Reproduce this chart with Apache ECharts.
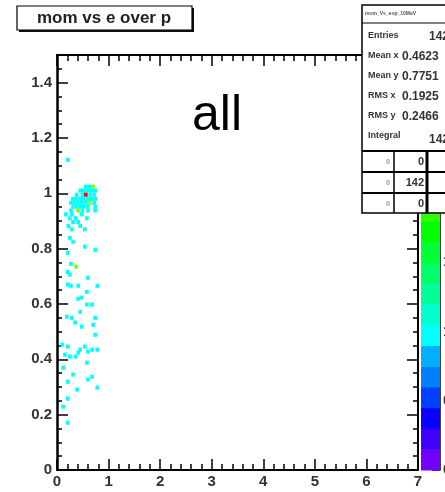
<!DOCTYPE html>
<html>
<head>
<meta charset="utf-8">
<script src="https://cdn.jsdelivr.net/npm/echarts@6/dist/echarts.min.js"></script>
<style>
  html, body { margin: 0; padding: 0; background: #fff; }
  #chart { width: 445px; height: 492px; }
</style>
</head>
<body>
<div id="chart"></div>
<script>
// Filled bins of the 2D histogram: x = E/p, y = momentum, entries per bin
const eOverP = [
  0.21,
  0.56, 0.63, 0.70,
  0.45, 0.52, 0.60, 0.67, 0.74,
  0.38, 0.49, 0.56, 0.64, 0.72,
  0.31, 0.38, 0.45, 0.52, 0.60, 0.67, 0.74,
  0.27, 0.34, 0.41, 0.48, 0.56, 0.64, 0.72,
  0.31, 0.38, 0.45, 0.52, 0.60, 0.74,
  0.27, 0.41, 0.49, 0.60, 0.74,
  0.17, 0.29, 0.48,
  0.25, 0.36, 0.58,
  0.31, 0.41,
  0.22, 0.45,
  0.29, 0.54,
  0.25, 0.31, 0.54, 0.74, 0.21,
  0.27, 0.37, 0.21, 0.25, 0.60,
  0.21, 0.27, 0.41, 0.78, 0.58,
  0.41, 0.48, 0.58, 0.68, 0.45,
  0.19, 0.29, 0.74,
  0.35, 0.48, 0.70, 0.74,
  0.10, 0.21, 0.41, 0.45, 0.54, 0.60, 0.68, 0.78, 0.155, 0.25, 0.36,
  0.58, 0.12, 0.31, 0.60, 0.68, 0.21, 0.39, 0.78,
  0.21, 0.12, 0.21
];
const mom = [
  1.121,
  1.024, 1.024, 1.024,
  1.010, 1.010, 1.010, 1.010, 1.010,
  0.995, 0.995, 0.995, 0.995, 0.995,
  0.980, 0.980, 0.980, 0.980, 0.980, 0.980, 0.980,
  0.966, 0.966, 0.966, 0.966, 0.966, 0.966, 0.966,
  0.952, 0.952, 0.952, 0.952, 0.952, 0.952,
  0.938, 0.938, 0.938, 0.938, 0.938,
  0.924, 0.924, 0.924,
  0.910, 0.910, 0.910,
  0.896, 0.896,
  0.882, 0.882,
  0.870, 0.870,
  0.839, 0.825, 0.807, 0.796, 0.785,
  0.745, 0.735, 0.716, 0.706, 0.695,
  0.670, 0.666, 0.666, 0.666, 0.644,
  0.619, 0.623, 0.598, 0.598, 0.572,
  0.554, 0.550, 0.550,
  0.533, 0.518, 0.525, 0.489,
  0.453, 0.446, 0.424, 0.435, 0.446, 0.428, 0.435, 0.435, 0.417, 0.410, 0.410,
  0.388, 0.370, 0.345, 0.327, 0.337, 0.319, 0.291, 0.298,
  0.258, 0.229, 0.171
];
const entries = [
  1,
  1, 1, 2,
  1, 1, 1, 1, 1,
  1, 1, 3, 1, 1,
  1, 1, 1, 1, 1, 1, 1,
  1, 1, 1, 1, 1, 2, 1,
  1, 1, 1, 1, 1, 1,
  1, 2, 1, 1, 1,
  1, 1, 1,
  1, 1, 1,
  1, 1,
  1, 1,
  1, 1,
  1, 1, 1, 1, 1,
  1, 2, 1, 1, 1,
  1, 1, 1, 1, 1,
  1, 1, 1, 1, 1,
  1, 1, 1,
  1, 1, 1, 1,
  1, 1, 1, 1, 1, 1, 1, 1, 1, 1, 1,
  1, 1, 1, 1, 1, 1, 1, 1,
  1, 1, 1
];

// Histogram binning and z range
const BIN_X = 0.07;
const BIN_Y = 0.015;
const zMax = 3;

// Colour palette, lowest band first
const palette = [
  '#7000ff', '#4000ff', '#0a00ff', '#0040ff', '#0080ff',
  '#00b0ff', '#00ffff', '#00ffcc', '#00ff99', '#00ff66',
  '#00ff33', '#00ff00', '#33ff00', '#80ff00', '#b0ff00',
  '#ddff00', '#ffee00', '#ffaa00', '#ff5500', '#ff0000'
];

// Statistics panel contents
const statsName = 'mom_Vs_eop_10MeV';
const statsLabels = ['Entries', 'Mean x', 'Mean y', 'RMS x', 'RMS y', 'Integral'];
const statsValues = ['142', '0.4623', '0.7751', '0.1925', '0.2466', '142'];
const overflowLeft = ['0', '0', '0'];
const overflowMid = ['0', '142', '0'];

const titleText = 'mom vs e over p';
const labelText = 'all';

const FONT = "'Liberation Sans', Arial, Helvetica, sans-serif";

const chart = echarts.init(document.getElementById('chart'), null, { renderer: 'canvas' });

function colorOf(n) {
  const idx = Math.max(0, Math.min(palette.length - 1, Math.floor(n / zMax * palette.length)));
  return palette[idx];
}

function renderCell(params, api) {
  const x = api.value(0), y = api.value(1), n = api.value(2);
  const p = api.coord([x - BIN_X / 2, y + BIN_Y / 2]);
  const s = api.size([BIN_X, BIN_Y]);
  return {
    type: 'rect',
    shape: { x: p[0], y: p[1], width: s[0], height: s[1] },
    style: { fill: colorOf(n) }
  };
}

function renderBand(params, api) {
  const i = api.value(0);
  const step = zMax / palette.length;
  const p = api.coord([0, (i + 1) * step]);
  const s = api.size([1, step]);
  return {
    type: 'rect',
    shape: { x: p[0], y: p[1], width: s[0], height: s[1] + 0.5 },
    style: { fill: palette[i] }
  };
}

const cells = eOverP.map((x, i) => [x, mom[i], entries[i]]);
const bands = palette.map((c, i) => [i]);

const tickLine = { color: '#000', width: 1.5 };
const frameLine = { color: '#000', width: 2 };

function xAxisDef(position, showLabel) {
  return {
    gridIndex: 0, type: 'value', min: 0, max: 7, interval: 1, position: position,
    axisLine: { show: true, onZero: false, lineStyle: frameLine },
    axisTick: { show: true, inside: true, length: 11, lineStyle: tickLine },
    minorTick: { show: true, splitNumber: 5, length: 6, lineStyle: tickLine },
    axisLabel: {
      show: showLabel, color: '#333', fontWeight: 'bold', fontSize: 15,
      fontFamily: FONT, margin: 4
    },
    splitLine: { show: false }, minorSplitLine: { show: false }
  };
}

function yAxisDef(position, interval, len, showLabel, showLine) {
  return {
    gridIndex: 0, type: 'value', min: 0, max: 1.5, interval: interval, position: position,
    axisLine: { show: showLine, onZero: false, lineStyle: position === 'left' ? { color: '#000', width: 2.5 } : frameLine },
    axisTick: { show: true, inside: true, length: len, lineStyle: tickLine },
    axisLabel: {
      show: showLabel, showMaxLabel: false, color: '#333', fontWeight: 'bold', fontSize: 15,
      fontFamily: FONT, margin: 5
    },
    splitLine: { show: false }
  };
}

const option = {
  backgroundColor: '#fff',
  animation: false,
  grid: [
    { left: 57, top: 55, width: 361, height: 415, outerBoundsMode: 'none', containLabel: false },
    { left: 421, top: 55, width: 19, height: 415, outerBoundsMode: 'none', containLabel: false }
  ],
  xAxis: [
    xAxisDef('bottom', true),
    xAxisDef('top', false),
    { gridIndex: 1, type: 'value', min: 0, max: 1, show: false }
  ],
  yAxis: [
    yAxisDef('left', 0.2, 11, true, true),
    yAxisDef('left', 0.05, 5, false, false),
    yAxisDef('right', 0.2, 11, false, true),
    yAxisDef('right', 0.05, 5, false, false),
    {
      gridIndex: 1, type: 'value', min: 0, max: zMax, interval: 0.5, position: 'right',
      axisLine: { show: true, onZero: false, lineStyle: { color: '#000', width: 1.5 } },
      axisTick: { show: true, inside: true, length: 8, lineStyle: tickLine },
      axisLabel: { show: true, color: '#333', fontWeight: 'bold', fontSize: 14, fontFamily: FONT, margin: 3 },
      splitLine: { show: false }
    }
  ],
  series: [
    {
      type: 'custom', xAxisIndex: 0, yAxisIndex: 0, renderItem: renderCell,
      data: cells, clip: true, z: 3
    },
    {
      type: 'custom', xAxisIndex: 2, yAxisIndex: 4, renderItem: renderBand,
      data: bands, z: 2
    }
  ],
  graphic: [
    // title box with drop shadow
    { type: 'rect', z: 50, shape: { x: 19, y: 8, width: 175, height: 24 }, style: { fill: '#111' } },
    { type: 'rect', z: 51, shape: { x: 17, y: 6, width: 175, height: 24 }, style: { fill: '#fff', stroke: '#000', lineWidth: 1.2 } },
    { type: 'text', z: 52, x: 104, y: 18, style: { text: titleText, fill: '#222', font: 'bold 17px ' + FONT, align: 'center', verticalAlign: 'middle' } },
    // large label inside the frame
    { type: 'text', z: 52, x: 217, y: 116, style: { text: labelText, fill: '#000', font: '50px ' + FONT, align: 'center', verticalAlign: 'middle' } },
    // statistics panel
    { type: 'rect', z: 60, shape: { x: 362, y: 5, width: 120, height: 208 }, style: { fill: '#fff', stroke: '#000', lineWidth: 1.5 } },
    { type: 'line', z: 61, shape: { x1: 362, y1: 23, x2: 482, y2: 23 }, style: { stroke: '#000', lineWidth: 1 } },
    { type: 'text', z: 62, x: 365, y: 14, style: { text: statsName, fill: '#555', font: 'bold 5px ' + FONT, verticalAlign: 'middle' } },
    ...statsLabels.map((t, i) => ({
      type: 'text', z: 62, x: 368, y: 36 + i * 20,
      style: { text: t, fill: '#333', font: 'bold 9px ' + FONT, verticalAlign: 'middle' }
    })),
    ...statsValues.map((t, i) => ({
      type: 'text', z: 62, x: (i === 0 || i === 5) ? 429 : 402, y: 37 + i * 20 + (i === 5 ? 3 : 0),
      style: { text: t, fill: '#333', font: 'bold 12px ' + FONT, verticalAlign: 'middle' }
    })),
    { type: 'line', z: 61, shape: { x1: 362, y1: 151, x2: 482, y2: 151 }, style: { stroke: '#000', lineWidth: 2 } },
    { type: 'line', z: 61, shape: { x1: 362, y1: 172, x2: 482, y2: 172 }, style: { stroke: '#000', lineWidth: 2 } },
    { type: 'line', z: 61, shape: { x1: 362, y1: 193, x2: 482, y2: 193 }, style: { stroke: '#000', lineWidth: 2 } },
    { type: 'line', z: 61, shape: { x1: 394, y1: 151, x2: 394, y2: 213 }, style: { stroke: '#000', lineWidth: 1.5 } },
    { type: 'line', z: 61, shape: { x1: 427, y1: 151, x2: 427, y2: 213 }, style: { stroke: '#000', lineWidth: 3 } },
    ...overflowLeft.map((t, i) => ({
      type: 'text', z: 62, x: 390, y: 162 + i * 21,
      style: { text: t, fill: '#999', font: 'bold 7px ' + FONT, align: 'right', verticalAlign: 'middle' }
    })),
    ...overflowMid.map((t, i) => ({
      type: 'text', z: 62, x: 424, y: 162 + i * 21,
      style: { text: t, fill: '#333', font: 'bold 11px ' + FONT, align: 'right', verticalAlign: 'middle' }
    }))
  ]
};

chart.setOption(option);
</script>
</body>
</html>
